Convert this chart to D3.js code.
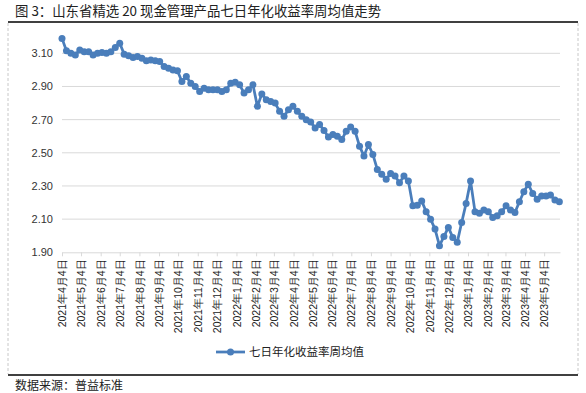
<!DOCTYPE html>
<html>
<head>
<meta charset="utf-8">
<script src="https://cdn.jsdelivr.net/npm/d3@7"></script>
<style>
  body { margin: 0; background: #fff; }
  svg { display: block; font-family: "Noto Sans CJK SC", "Noto Sans", sans-serif; }
</style>
</head>
<body>
<script>
// weekly averages of the 7-day annualised yield (%), one per week from 2021-04-04
var startDate = '2021-04-04';
var yieldValues = [
  3.19, 3.115, 3.10, 3.09, 3.12, 3.11, 3.11, 3.09, 3.10, 3.105,
  3.10, 3.11, 3.135, 3.16, 3.095, 3.085, 3.075, 3.08, 3.07, 3.055,
  3.06, 3.055, 3.05, 3.02, 3.01, 3.00, 2.995, 2.93, 2.96, 2.92,
  2.90, 2.87, 2.89, 2.88, 2.88, 2.88, 2.87, 2.88, 2.92, 2.925,
  2.91, 2.86, 2.88, 2.91, 2.78, 2.855, 2.82, 2.81, 2.80, 2.75,
  2.72, 2.76, 2.78, 2.75, 2.72, 2.70, 2.685, 2.65, 2.67, 2.635,
  2.595, 2.61, 2.60, 2.58, 2.63, 2.655, 2.63, 2.54, 2.48, 2.55,
  2.49, 2.40, 2.37, 2.34, 2.375, 2.36, 2.32, 2.36, 2.33, 2.18,
  2.183, 2.21, 2.145, 2.10, 2.04, 1.94, 1.995, 2.05, 1.99, 1.96,
  2.08, 2.195, 2.33, 2.145, 2.135, 2.155, 2.145, 2.11, 2.12, 2.145,
  2.18, 2.155, 2.14, 2.205, 2.265, 2.31, 2.255, 2.22, 2.24, 2.24,
  2.245, 2.215, 2.205
];
var tickDates = [
  '2021-04-04', '2021-05-04', '2021-06-04', '2021-07-04', '2021-08-04', '2021-09-04',
  '2021-10-04', '2021-11-04', '2021-12-04', '2022-01-04', '2022-02-04', '2022-03-04',
  '2022-04-04', '2022-05-04', '2022-06-04', '2022-07-04', '2022-08-04', '2022-09-04',
  '2022-10-04', '2022-11-04', '2022-12-04', '2023-01-04', '2023-02-04', '2023-03-04',
  '2023-04-04', '2023-05-04'
];
var yTicks = [1.90, 2.10, 2.30, 2.50, 2.70, 2.90, 3.10];
var seriesName = '七日年化收益率周均值';

var parse = d3.timeParse('%Y-%m-%d');
var t0 = parse(startDate);
var data = yieldValues.map(function (v, i) {
  return { date: d3.timeDay.offset(t0, i * 7), value: v };
});

var svg = d3.select('body').append('svg').attr('width', 586).attr('height', 393);

// frame
svg.append('text').attr('x', 15).attr('y', 16)
  .attr('font-size', 13.4).attr('fill', '#222')
  .text('图 3：山东省精选 20 现金管理产品七日年化收益率周均值走势');
svg.append('line').attr('x1', 8).attr('x2', 578).attr('y1', 22).attr('y2', 22)
  .attr('stroke', '#000').attr('stroke-width', 1.5);
svg.append('line').attr('x1', 8).attr('x2', 578).attr('y1', 375).attr('y2', 375)
  .attr('stroke', '#000').attr('stroke-width', 1.5);
[8, 578].forEach(function (x) {
  svg.append('line').attr('x1', x).attr('x2', x).attr('y1', 23).attr('y2', 374)
    .attr('stroke', '#c8c8c8').attr('stroke-dasharray', '3,2');
});
svg.append('text').attr('x', 15).attr('y', 390)
  .attr('font-size', 12).attr('fill', '#222')
  .text('数据来源：普益标准');

// scales
var x = d3.scaleTime().domain([parse('2021-04-04'), parse('2023-05-29')]).range([62, 560]);
var y = d3.scaleLinear().domain([1.90, 3.10]).range([252.3, 53.3]);

// gridlines
svg.append('g').selectAll('line').data(yTicks.slice(1)).join('line')
  .attr('x1', 62).attr('x2', 560)
  .attr('y1', function (d) { return y(d); }).attr('y2', function (d) { return y(d); })
  .attr('stroke', '#d9d9d9');

// y axis labels
var yAxis = svg.append('g').attr('transform', 'translate(62,0)')
  .call(d3.axisLeft(y).tickValues(yTicks).tickSize(0).tickPadding(9).tickFormat(d3.format('.2f')));
yAxis.select('.domain').remove();
yAxis.selectAll('text').attr('font-size', 11).attr('fill', '#333')
  .attr('font-family', '"Liberation Sans", Arial, sans-serif');

// x axis
var xAxis = svg.append('g').attr('transform', 'translate(0,' + y(1.90) + ')')
  .call(d3.axisBottom(x).tickValues(tickDates.map(parse)).tickSize(4).tickSizeOuter(0)
    .tickFormat(d3.timeFormat('%Y年%-m月%-d日')));
xAxis.select('.domain').attr('stroke', '#d9d9d9');
xAxis.selectAll('.tick line').attr('stroke', '#d9d9d9');
xAxis.selectAll('.tick text')
  .attr('font-size', 10.5).attr('fill', '#222')
  .attr('transform', 'rotate(-90)')
  .attr('text-anchor', 'end')
  .attr('x', -7).attr('y', 0).attr('dy', '0.35em');

// series
var color = '#4a7ebb';
svg.append('path').datum(data)
  .attr('fill', 'none').attr('stroke', color).attr('stroke-width', 2.75)
  .attr('stroke-linejoin', 'round')
  .attr('d', d3.line().x(function (d) { return x(d.date); }).y(function (d) { return y(d.value); }));
svg.append('g').selectAll('circle').data(data).join('circle')
  .attr('cx', function (d) { return x(d.date); })
  .attr('cy', function (d) { return y(d.value); })
  .attr('r', 3.5).attr('fill', color);

// legend
var legend = svg.append('g');
legend.append('line').attr('x1', 216).attr('x2', 245).attr('y1', 352).attr('y2', 352)
  .attr('stroke', color).attr('stroke-width', 2.75);
legend.append('circle').attr('cx', 230.5).attr('cy', 352).attr('r', 3.5).attr('fill', color);
legend.append('text').attr('x', 249).attr('y', 352).attr('dy', '0.35em')
  .attr('font-size', 11.5).attr('fill', '#222').text(seriesName);
</script>
</body>
</html>
